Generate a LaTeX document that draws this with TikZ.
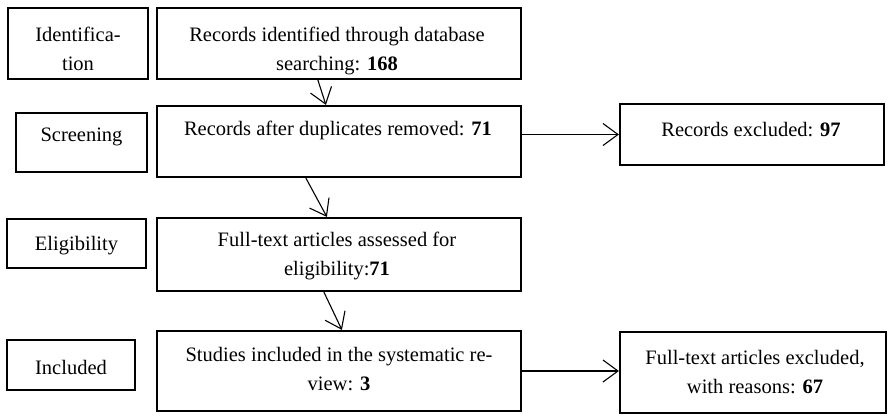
\documentclass[tikz,border=0pt]{standalone}
\usepackage{fontspec}
\setmainfont{Liberation Serif}
\usetikzlibrary{arrows.meta,calc}
\begin{document}
\begin{tikzpicture}[x=1pt,y=-1pt,
  box/.style={draw,line width=2.2pt,inner sep=0pt,rectangle},
  lbl/.style={font=\fontsize{20.5}{29}\selectfont,align=center,inner sep=0pt},
  conn/.style={line width=1.1pt,-{Straight Barb[length=15pt,width=22pt]}}]
\useasboundingbox (0,0) rectangle (888,415);
% stage boxes
\node[box,minimum width=140pt,minimum height=71pt] (id) at (78,43.5) {};
\node[box,minimum width=131pt,minimum height=59pt] (sc) at (81.5,142.5) {};
\node[box,minimum width=139pt,minimum height=49pt] (el) at (76.5,243.5) {};
\node[box,minimum width=128pt,minimum height=50pt] (in) at (71,365) {};
% main boxes
\node[box,minimum width=364pt,minimum height=71pt] (b1) at (339,43.5) {};
\node[box,minimum width=364pt,minimum height=71pt] (b2) at (339,141.5) {};
\node[box,minimum width=364pt,minimum height=73pt] (b3) at (339,254.5) {};
\node[box,minimum width=364pt,minimum height=80pt] (b4) at (339,371) {};
% excluded boxes
\node[box,minimum width=264pt,minimum height=61pt] (e1) at (752,134.5) {};
\node[box,minimum width=266pt,minimum height=81pt] (e2) at (753,372.5) {};
% texts
\node[lbl] (tid) at (78,48.5) {Identifica-\\tion};
\node[lbl] (tsc) at (81.5,137) {Screening};
\node[lbl] (tel) at (76.5,246) {Eligibility};
\node[lbl] (tin) at (71,367) {Included};
\node[lbl] (tb1) at (337,51) {Records identified through database\\searching: \textbf{168}};
\node[lbl] (tb2) at (338,130) {Records after duplicates removed: \textbf{71}};
\node[lbl] (tb3) at (337,255.5) {Full-text articles assessed for\\eligibility:\textbf{71}};
\node[lbl] (tb4) at (339,369) {Studies included in the systematic re-\\view: \textbf{3}};
\node[lbl] (te1) at (751,130) {Records excluded: \textbf{97}};
\node[lbl] (te2) at (755,372.5) {Full-text articles excluded,\\with reasons: \textbf{67}};
% connectors
\draw[conn] ([xshift=162pt]b1.south west) -- ([xshift=170pt]b2.north west);
\draw[conn] ([xshift=150pt]b2.south west) -- ([xshift=171pt]b3.north west);
\draw[conn] ([xshift=168pt]b3.south west) -- ([xshift=186pt]b4.north west);
\draw[conn] (e1.west -| b2.east) -- (e1.west);
\draw[conn] (b4.east) -- (b4.east -| e2.west);
\end{tikzpicture}
\end{document}
